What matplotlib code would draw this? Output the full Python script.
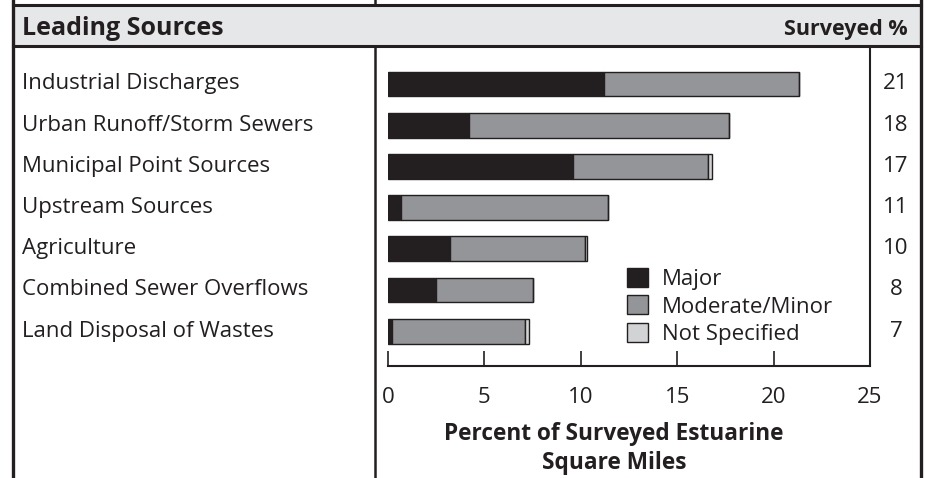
import matplotlib
matplotlib.use('Agg')
import matplotlib.pyplot as plt
from matplotlib.lines import Line2D
from matplotlib.patches import Rectangle
from matplotlib import transforms

# data
categories = ['Industrial Discharges', 'Urban Runoff/Storm Sewers', 'Municipal Point Sources',
              'Upstream Sources', 'Agriculture', 'Combined Sewer Overflows', 'Land Disposal of Wastes']
major = [11.2, 4.2, 9.6, 0.7, 3.2, 2.5, 0.2]
moderate = [10.1, 13.5, 7.0, 10.7, 7.0, 5.0, 6.9]
not_specified = [0.0, 0.0, 0.2, 0.0, 0.1, 0.0, 0.2]
surveyed = [21, 18, 17, 11, 10, 8, 7]
xticks = [0, 5, 10, 15, 20, 25]

DARK = '#231f20'
MID = '#939598'
LIGHT = '#d1d3d4'
BAND = '#e6e7e8'
FONT = 'Open Sans'
W, H = 929, 478

fig = plt.figure(figsize=(W / 100, H / 100), dpi=100)

# background frame drawn in pixel coordinates
bg = fig.add_axes([0, 0, 1, 1])
bg.set_xlim(0, W)
bg.set_ylim(H, 0)
bg.axis('off')
bg.add_patch(Rectangle((13, 5), 908, 41, facecolor=BAND, edgecolor='none'))
bg.add_line(Line2D([13, 921], [5, 5], color=DARK, lw=2.2))
bg.add_line(Line2D([13, 921], [46, 46], color=DARK, lw=2.2))
bg.add_line(Line2D([13, 13], [0, H], color=DARK, lw=2.4))
bg.add_line(Line2D([921, 921], [0, H], color=DARK, lw=2.4))
bg.add_line(Line2D([375, 375], [0, 5], color=DARK, lw=1.8))
bg.add_line(Line2D([375, 375], [46, H], color=DARK, lw=1.8))
bg.text(22, 28, 'Leading Sources', fontsize=18, fontweight='bold', family=FONT,
        color=DARK, va='center', ha='left')
bg.text(908, 29, 'Surveyed %', fontsize=15.5, fontweight='bold', family=FONT,
        color=DARK, va='center', ha='right')

# bar chart area
ax = fig.add_axes([388 / W, 1 - 366 / H, 482 / W, 319 / H])
ax.set_facecolor('none')
y = list(range(len(categories)))
left2 = [a + b for a, b in zip(major, moderate)]
b1 = ax.barh(y, major, height=0.6, color=DARK, edgecolor=DARK, linewidth=1.0, label='Major')
b2 = ax.barh(y, moderate, left=major, height=0.6, color=MID, edgecolor=DARK, linewidth=1.0,
             label='Moderate/Minor')
b3 = ax.barh(y, not_specified, left=left2, height=0.6, color=LIGHT, edgecolor=DARK,
             linewidth=1.0, label='Not Specified')

ax.set_xlim(0, 25)
ax.set_ylim(6.845, -0.898)
ax.set_xticks(xticks)
ax.set_xticklabels([str(t) for t in xticks], family=FONT, fontsize=16, color=DARK)
ax.set_yticks([])
ax.tick_params(axis='x', direction='in', length=11, width=1.2, color=DARK, pad=15)
for s in ['left', 'top']:
    ax.spines[s].set_visible(False)
ax.spines['bottom'].set_linewidth(1.5)
ax.spines['right'].set_linewidth(1.5)
ax.spines['bottom'].set_color(DARK)
ax.spines['right'].set_color(DARK)

ax.set_xlabel('Percent of Surveyed Estuarine\nSquare Miles', fontsize=16.3, fontweight='bold',
              family=FONT, color=DARK, linespacing=1.3)
ax.xaxis.set_label_coords((614 - 388) / 482, -0.174)

# category names and surveyed percentages
trans = transforms.blended_transform_factory(ax.transAxes, ax.transData)
for i, (name, val) in enumerate(zip(categories, surveyed)):
    ax.text((22 - 388) / 482, i, name, transform=trans, family=FONT, fontsize=16,
            color=DARK, va='center', ha='left')
    ax.text((896 - 388) / 482, i, str(val), transform=trans, family=FONT, fontsize=16,
            color=DARK, va='center', ha='center')

leg = ax.legend(handles=[b1, b2, b3], loc='upper left', bbox_to_anchor=(0.496, 0.308),
                frameon=False, borderpad=0, borderaxespad=0, handlelength=0.95, handleheight=0.95,
                handletextpad=0.6, labelspacing=0.24, prop={'family': FONT, 'size': 16})
for t in leg.get_texts():
    t.set_color(DARK)

fig.savefig('out.png', dpi=100)
